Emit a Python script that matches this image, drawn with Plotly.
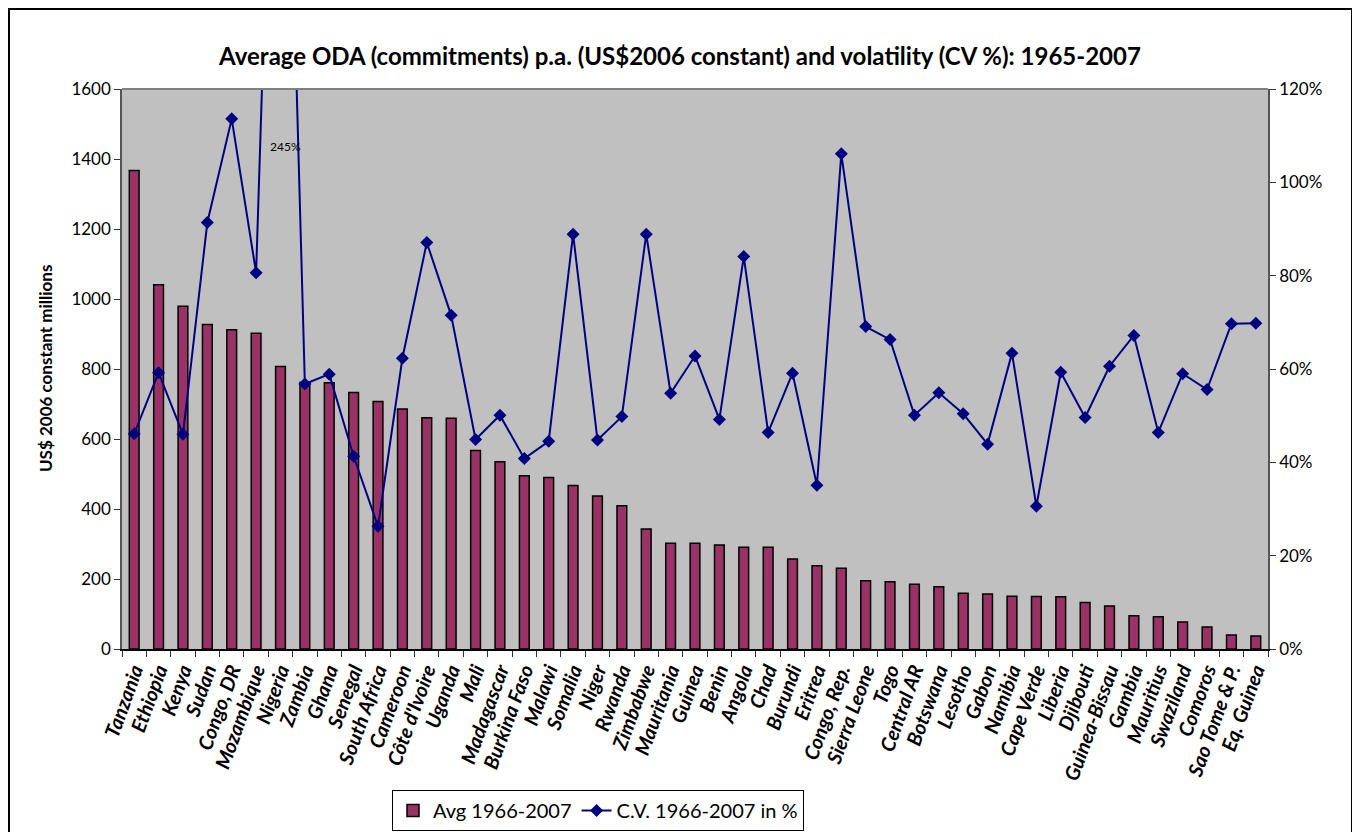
import plotly.graph_objects as go

countries = ["Tanzania", "Ethiopia", "Kenya", "Sudan", "Congo, DR", "Mozambique", "Nigeria",
             "Zambia", "Ghana", "Senegal", "South Africa", "Cameroon", "Côte d'Ivoire", "Uganda",
             "Mali", "Madagascar", "Burkina Faso", "Malawi", "Somalia", "Niger", "Rwanda",
             "Zimbabwe", "Mauritania", "Guinea", "Benin", "Angola", "Chad", "Burundi", "Eritrea",
             "Congo, Rep.", "Sierra Leone", "Togo", "Central AR", "Botswana", "Lesotho", "Gabon",
             "Namibia", "Cape Verde", "Liberia", "Djibouti", "Guinea-Bissau", "Gambia",
             "Mauritius", "Swaziland", "Comoros", "Sao Tome & P.", "Eq. Guinea"]

avg_oda = [1367, 1041, 979, 927, 912, 902, 807, 762, 761, 733, 707, 686, 661, 659, 567, 535,
           495, 490, 467, 437, 409, 343, 302, 302, 297, 291, 291, 257, 238, 231, 195, 192, 185,
           178, 159, 157, 151, 150, 149, 133, 123, 95, 92, 77, 63, 40, 37]

cv = [0.461, 0.592, 0.460, 0.914, 1.136, 0.806, 2.45, 0.568, 0.589, 0.413, 0.263, 0.623, 0.871,
      0.715, 0.449, 0.501, 0.408, 0.445, 0.889, 0.448, 0.498, 0.889, 0.548, 0.628, 0.492, 0.841,
      0.464, 0.591, 0.351, 1.061, 0.691, 0.663, 0.501, 0.549, 0.504, 0.439, 0.634, 0.306, 0.593,
      0.496, 0.606, 0.672, 0.464, 0.590, 0.556, 0.697, 0.698]

left_ticks = [0, 200, 400, 600, 800, 1000, 1200, 1400, 1600]
right_ticks = [0, 0.2, 0.4, 0.6, 0.8, 1.0, 1.2]

FONT = "Lato"
OFF = 8  # default page body margin

fig = go.Figure()
fig.add_trace(go.Bar(
    x=countries, y=avg_oda, name="Avg 1966-2007",
    marker=dict(color="#993366", line=dict(color="black", width=1.5)),
    width=0.4,
))
fig.add_trace(go.Scatter(
    x=countries, y=cv, name="C.V. 1966-2007 in %", yaxis="y2",
    mode="lines+markers",
    line=dict(color="#000080", width=2),
    marker=dict(symbol="diamond", size=10, color="#000080"),
))

fig.update_layout(
    width=1360 - OFF, height=832 - OFF,
    margin=dict(l=122 - OFF, r=92, t=89 - OFF, b=183, autoexpand=False),
    paper_bgcolor="white", plot_bgcolor="#C0C0C0",
    font=dict(family=FONT, size=17, color="black"),
    title=dict(text="<b>Average ODA (commitments) p.a. (US$2006 constant) and volatility (CV %): 1965-2007</b>",
               x=(680 - OFF) / (1360 - OFF), xref="container", xanchor="center",
               y=1 - (57 - OFF) / (832 - OFF), yref="container", yanchor="middle",
               font=dict(family=FONT, size=24, color="black")),
    showlegend=True,
    legend=dict(orientation="h", x=(392 - 122) / 1146, xanchor="left",
                y=(649 - 790) / 560, yanchor="top",
                bgcolor="white", bordercolor="black", borderwidth=1,
                font=dict(family=FONT, size=20), traceorder="normal"),
    bargap=0.6,
    xaxis=dict(type="category", range=[-0.5, len(countries) - 0.5], autorange=False,
               tickangle=-70, tickson="boundaries", automargin=False,
               tickmode="array", tickvals=countries, ticktext=countries,
               ticks="outside", ticklen=6, tickcolor="#333333",
               showline=True, linecolor="black", linewidth=1.5,
               showgrid=False, zeroline=False,
               tickfont=dict(family=FONT, size=20, weight="bold", style="italic")),
    yaxis=dict(range=[0, 1600], tickvals=left_ticks, ticks="outside", ticklen=6, automargin=False,
               tickcolor="#333333", showline=True, linecolor="#555555", linewidth=1.5,
               showgrid=False, zeroline=False, tickfont=dict(family=FONT, size=17)),
    yaxis2=dict(range=[0, 1.2], tickvals=right_ticks, tickformat=".0%", overlaying="y",
                side="right", ticks="outside", ticklen=6, tickcolor="#333333", automargin=False,
                showline=True, linecolor="#555555", linewidth=1.5,
                showgrid=False, zeroline=False, tickfont=dict(family=FONT, size=17)),
)

# y-axis title
fig.add_annotation(text="<b>US$ 2006 constant millions</b>", textangle=-90,
                   xref="paper", yref="paper", x=(45 - 122) / 1146, y=(649 - 369) / 560,
                   xanchor="center", yanchor="middle",
                   showarrow=False, font=dict(family=FONT, size=17))

# off-scale data label for Nigeria
fig.add_annotation(text="245%", xref="x", yref="y2", x="Nigeria", y=1.076,
                   xshift=5, showarrow=False, font=dict(family=FONT, size=12))

# gray top edge of plot area
fig.add_shape(type="line", xref="paper", yref="paper", x0=0, x1=1, y0=1, y1=1,
              line=dict(color="#808080", width=2))

# outer chart border
fig.add_shape(type="rect", xref="paper", yref="paper",
              x0=(9 - 122) / 1146, x1=(1352 - 122) / 1146,
              y0=(649 - 845) / 560, y1=(649 - 9) / 560,
              line=dict(color="black", width=2), fillcolor="rgba(0,0,0,0)", layer="below")

fig.write_html("out.html")
